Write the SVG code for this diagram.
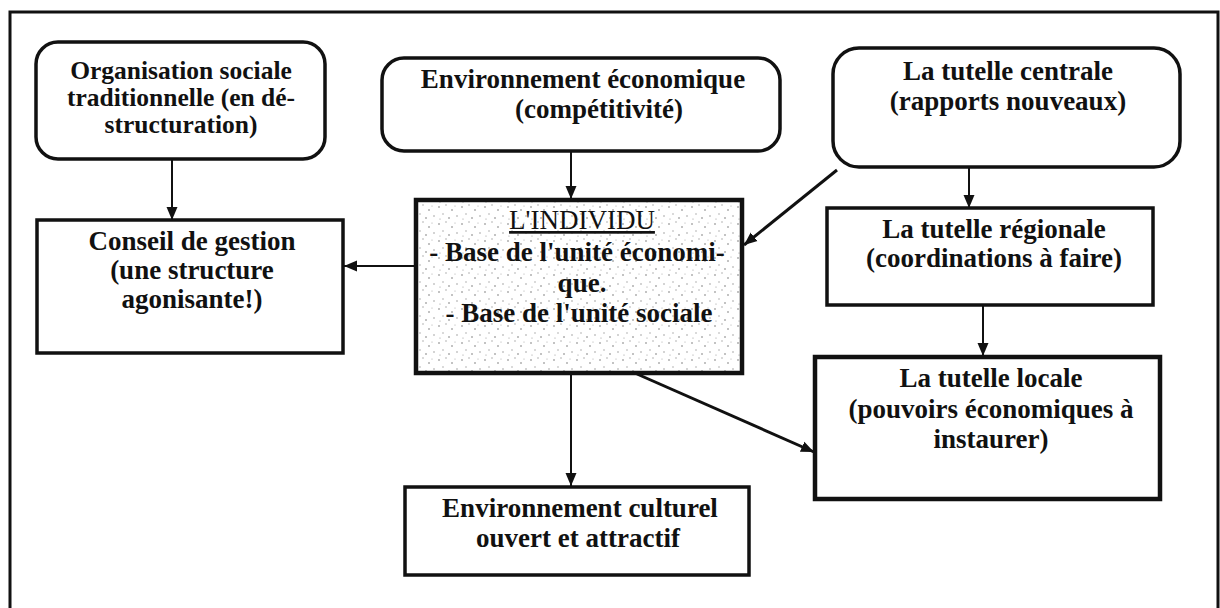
<svg xmlns="http://www.w3.org/2000/svg" width="1220" height="608" viewBox="0 0 1220 608">
<style>
.t{font-family:"Liberation Serif","Times New Roman",serif;font-weight:bold;font-size:27px;fill:#111;text-anchor:middle}
.s{font-size:25.5px}
.r{font-weight:normal}
.box{fill:#fff;stroke:#111;stroke-width:3.5}
.thick{stroke-width:4.5}
.c{stroke:#111;fill:none;stroke-width:2}
.c3{stroke-width:3}
</style>
<defs>
<marker id="ah" markerUnits="userSpaceOnUse" markerWidth="14" markerHeight="14" viewBox="0 0 14 14" refX="13" refY="7" orient="auto">
<path d="M0,1.5 L13,7 L0,12.5 Z" fill="#111"/>
</marker>
<pattern id="stip" patternUnits="userSpaceOnUse" width="23" height="17">
<rect width="23" height="17" fill="#fff"/>
<circle cx="2" cy="3" r="0.8" fill="#777"/>
<circle cx="9" cy="1" r="0.7" fill="#999"/>
<circle cx="15" cy="6" r="0.8" fill="#777"/>
<circle cx="20" cy="12" r="0.7" fill="#888"/>
<circle cx="6" cy="10" r="0.7" fill="#999"/>
<circle cx="12" cy="14" r="0.8" fill="#777"/>
<circle cx="18" cy="2" r="0.6" fill="#aaa"/>
<circle cx="3" cy="15" r="0.6" fill="#999"/>
</pattern>
</defs>
<path d="M10,608 V12 H1218 V608" fill="none" stroke="#111" stroke-width="3"/>
<g id="connectors">
<line class="c" x1="172" y1="160" x2="172" y2="220" marker-end="url(#ah)"/>
<line class="c" x1="571" y1="152" x2="571" y2="199" marker-end="url(#ah)"/>
<line class="c" x1="416" y1="266" x2="344" y2="266" marker-end="url(#ah)"/>
<line class="c c3" x1="837" y1="170" x2="744" y2="245" marker-end="url(#ah)"/>
<line class="c" x1="969" y1="168" x2="969" y2="208" marker-end="url(#ah)"/>
<line class="c" x1="983" y1="306" x2="983" y2="356" marker-end="url(#ah)"/>
<line class="c c3" x1="637" y1="374" x2="814" y2="452" marker-end="url(#ah)"/>
<line class="c" x1="571" y1="374" x2="571" y2="486" marker-end="url(#ah)"/>
</g>
<g id="n-organisation">
<rect class="box" x="36" y="42" width="289" height="117" rx="22"/>
<text class="t s" x="181" y="79">Organisation sociale</text>
<text class="t s" x="181" y="106">traditionnelle (en dé-</text>
<text class="t s" x="181" y="133">structuration)</text>
</g>
<g id="n-economique">
<rect class="box" x="382" y="58" width="398" height="93" rx="22"/>
<text class="t" x="583" y="88">Environnement économique</text>
<text class="t" x="599" y="118">(compétitivité)</text>
</g>
<g id="n-centrale">
<rect class="box" x="833" y="48" width="347" height="119" rx="26"/>
<text class="t" x="1008" y="80">La tutelle centrale</text>
<text class="t" x="1008" y="110">(rapports nouveaux)</text>
</g>
<g id="n-conseil">
<rect class="box" x="37" y="220" width="306" height="133"/>
<text class="t" x="192" y="250">Conseil de gestion</text>
<text class="t" x="192" y="279">(une structure</text>
<text class="t" x="192" y="308">agonisante!)</text>
</g>
<g id="n-individu">
<rect class="box thick" x="416" y="200" width="326" height="173" style="fill:url(#stip)"/>
<text class="t r" x="582" y="229" text-decoration="underline">L'INDIVIDU</text>
<text class="t" x="577" y="261">- Base de l'unité économi-</text>
<text class="t" x="582" y="292">que.</text>
<text class="t" x="579" y="322">- Base de l'unité sociale</text>
</g>
<g id="n-regionale">
<rect class="box" x="827" y="208" width="326" height="97"/>
<text class="t" x="994" y="238">La tutelle régionale</text>
<text class="t" x="994" y="267">(coordinations à faire)</text>
</g>
<g id="n-locale">
<rect class="box thick" x="815" y="357" width="345" height="142"/>
<text class="t" x="991" y="387">La tutelle locale</text>
<text class="t" x="991" y="418">(pouvoirs économiques à</text>
<text class="t" x="991" y="448">instaurer)</text>
</g>
<g id="n-culturel">
<rect class="box" x="405" y="487" width="344" height="88"/>
<text class="t" x="580" y="517">Environnement culturel</text>
<text class="t" x="578" y="547">ouvert et attractif</text>
</g>
</svg>
